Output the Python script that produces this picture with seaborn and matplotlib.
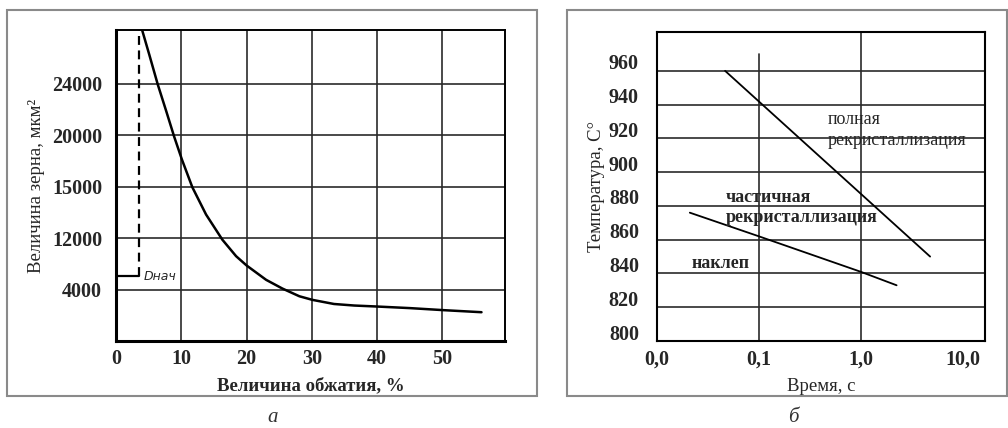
import matplotlib
matplotlib.use('Agg')
import numpy as np
import pandas as pd
import matplotlib.pyplot as plt
import seaborn as sns
from matplotlib.patches import Rectangle
from matplotlib.transforms import ScaledTranslation

# panel a: grain size vs reduction; y is in grid steps, tick labels are the printed values
reduction = [4.0, 5.1, 6.4, 7.7, 8.9, 10.1, 11.7, 13.8, 16.3, 18.4, 20.0, 23.0,
             25.5, 28.1, 30.1, 33.4, 36.5, 40.1, 45.0, 50.2, 56.0]
grain_step = [6.05, 5.57, 4.99, 4.47, 3.98, 3.53, 2.99, 2.46, 1.97, 1.65, 1.47, 1.19,
              1.02, 0.87, 0.80, 0.72, 0.69, 0.67, 0.64, 0.60, 0.56]
grain_ticks = [1, 2, 3, 4, 5]
grain_labels = ['4000', '12000', '15000', '20000', '24000']
red_ticks = [0, 10, 20, 30, 40, 50]
d_init_x = 3.5
d_init_y = 1.26

# panel b: recrystallisation boundaries
full_time = [0.0466, 4.8]
full_temp = [960, 850]
part_time = [0.021, 0.1, 1.0, 2.25]
part_temp = [876, 862, 841, 833]
time_ticks = [0.01, 0.1, 1.0, 10.0]
time_labels = ['0,0', '0,1', '1,0', '10,0']
temp_ticks = [800, 820, 840, 860, 880, 900, 920, 940, 960]

sns.set_style('white')
plt.rcParams['font.family'] = ['Liberation Serif', 'DejaVu Serif']

W, H = 1008, 428
fig = plt.figure(figsize=(W / 100, H / 100), dpi=100)

# gray frames around panels
for x0, x1 in [(7, 537), (567, 1007)]:
    fig.patches.append(Rectangle((x0 / W, 1 - 396 / H), (x1 - x0) / W, 386 / H,
                                 transform=fig.transFigure, fill=False,
                                 edgecolor='#8a8a8a', lw=1.5))

# ---- panel a
ax1 = fig.add_axes([116 / W, 1 - 341 / H, (505 - 116) / W, (341 - 30) / H])
df_a = pd.DataFrame({'x': reduction, 'y': grain_step})
sns.lineplot(data=df_a, x='x', y='y', color='black', lw=1.8, ax=ax1)
ax1.plot([0, d_init_x], [d_init_y, d_init_y], color='black', lw=1.6)
ax1.plot([d_init_x, d_init_x], [d_init_y, 6.05], color='black', lw=1.6, ls=(0, (4, 2.5)))
ax1.text(d_init_x + 0.8, d_init_y, 'Dнач', fontsize=9, style='italic',
         family=['DejaVu Sans'], va='center', ha='left')
ax1.set_xlim(0, 59.6)
ax1.set_ylim(0, 6.05)
ax1.set_xticks(red_ticks)
ax1.set_yticks(grain_ticks)
ax1.set_yticklabels(grain_labels)
ax1.grid(True, color='#2a2a2a', lw=1.2)
ax1.tick_params(length=0, labelsize=14.5, pad=6)
ax1.tick_params(axis='y', pad=10)
for lab in ax1.get_xticklabels() + ax1.get_yticklabels():
    lab.set_fontweight('bold')
for s in ['left', 'bottom']:
    ax1.spines[s].set_linewidth(2.2)
for s in ['top', 'right']:
    ax1.spines[s].set_linewidth(1.4)
for s in ax1.spines.values():
    s.set_color('black')
ax1.set_xlabel('Величина обжатия, %', fontsize=13.5, fontweight='bold', labelpad=6)
ax1.set_ylabel('Величина зерна, мкм²', fontsize=13.5, labelpad=5)

# ---- panel b
ax2 = fig.add_axes([657 / W, 1 - 341 / H, (985 - 657) / W, (341 - 32) / H])
ax2.set_xscale('log')
sns.lineplot(x=full_time, y=full_temp, color='black', lw=1.3, ax=ax2)
sns.lineplot(x=part_time, y=part_temp, color='black', lw=1.3, ax=ax2)
ax2.set_xlim(0.01, 16.6)
ax2.set_ylim(800, 983)
ax2.set_xticks(time_ticks)
ax2.set_xticklabels(time_labels)
ax2.xaxis.set_minor_locator(matplotlib.ticker.NullLocator())
ax2.set_yticks(temp_ticks)
for t in temp_ticks[1:]:
    ax2.axhline(t, color='#2a2a2a', lw=1.2, zorder=0)
ax2.axvline(0.1, ymin=0, ymax=0.93, color='#2a2a2a', lw=1.2, zorder=0)
ax2.axvline(1.0, color='#2a2a2a', lw=1.2, zorder=0)
ax2.tick_params(length=0, labelsize=14.5, pad=6)
ax2.tick_params(axis='y', pad=13)
offset = ScaledTranslation(0, 0.09, fig.dpi_scale_trans)
for lab in ax2.get_yticklabels():
    lab.set_transform(lab.get_transform() + offset)
for lab in ax2.get_xticklabels() + ax2.get_yticklabels():
    lab.set_fontweight('bold')
for s in ax2.spines.values():
    s.set_color('black')
    s.set_linewidth(1.5)
ax2.set_xlabel('Время, с', fontsize=13.5, labelpad=6)
ax2.set_ylabel('Температура, С°', fontsize=13.5, labelpad=3)

ax2.text(0.477, 936, 'полная\nрекристаллизация', fontsize=13, va='top', ha='left',
         linespacing=1.25)
ax2.text(0.0476, 890, 'частичная\nрекристаллизация', fontsize=13, va='top', ha='left',
         fontweight='bold', linespacing=1.25)
ax2.text(0.0219, 846, 'наклеп', fontsize=13, va='center', ha='left', fontweight='bold')

# captions
fig.text(273 / W, 1 - 417 / H, 'а', fontsize=15, style='italic', ha='center', va='center',
         color='#333333')
fig.text(793 / W, 1 - 417 / H, 'б', fontsize=15, style='italic', ha='center', va='center',
         color='#333333')

fig.savefig('out.png', dpi=100)
